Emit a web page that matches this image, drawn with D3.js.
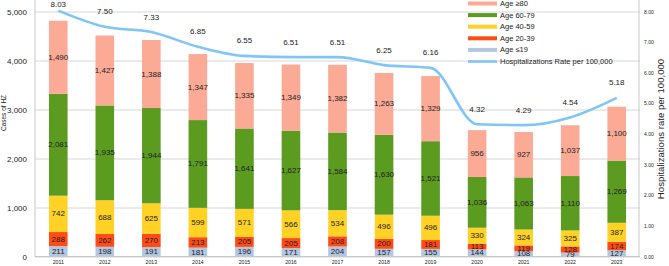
<!DOCTYPE html>
<html lang="en">
<head>
  <meta charset="UTF-8">
  <script src="https://d3js.org/d3.v7.min.js"></script>
  <style>
    body { margin: 0; background: #fff; }
    svg text { font-family: "Liberation Sans", Arial, sans-serif; fill: #222; }
    .gridlines .domain { display: none; }
    .gridlines line { stroke: #d6d6d6; }
    .axis .domain { display: none; }
  </style>
</head>
<body>
  <svg id="chart" width="669" height="266"></svg>
  <script>
    // data
    const years = ["2011", "2012", "2013", "2014", "2015", "2016", "2017", "2018", "2019", "2020", "2021", "2022", "2023"];
    const age19 = [211, 198, 191, 181, 196, 171, 204, 157, 155, 144, 108, 79, 127];
    const age2039 = [288, 262, 270, 213, 205, 205, 208, 200, 181, 113, 119, 128, 174];
    const age4059 = [742, 688, 625, 599, 571, 566, 534, 496, 496, 330, 324, 325, 387];
    const age6079 = [2081, 1935, 1944, 1791, 1641, 1627, 1584, 1630, 1521, 1036, 1063, 1110, 1269];
    const age80 = [1490, 1427, 1388, 1347, 1335, 1349, 1382, 1263, 1329, 956, 927, 1037, 1100];
    const rate = [8.03, 7.50, 7.33, 6.85, 6.55, 6.51, 6.51, 6.25, 6.16, 4.32, 4.29, 4.54, 5.18];
    const leftTicks = [0, 1000, 2000, 3000, 4000, 5000];
    const rightTicks = [0, 1, 2, 3, 4, 5, 6, 7, 8];

    const keys = ["a19", "a2039", "a4059", "a6079", "a80"];
    const names = { a80: "Age \u226580", a6079: "Age 60-79", a4059: "Age 40-59", a2039: "Age 20-39", a19: "Age \u226419" };
    const colors = { a19: "#b4c7e1", a2039: "#ff4b16", a4059: "#ffd225", a6079: "#5b9b1f", a80: "#fbaa95" };
    const lineColor = "#7fc5f7";

    const table = years.map((yr, i) => ({
      year: yr, a19: age19[i], a2039: age2039[i], a4059: age4059[i], a6079: age6079[i], a80: age80[i], rate: rate[i]
    }));

    const svg = d3.select("#chart");
    const plotLeft = 35, plotRight = 640, plotTop = 11.5, plotBottom = 256.5;

    const x = d3.scaleBand().domain(years).range([plotLeft, plotRight]).paddingInner(0.6).paddingOuter(0.3);
    const y = d3.scaleLinear().domain([0, 5000]).range([plotBottom, plotTop]);
    const yR = d3.scaleLinear().domain([0, 8]).range([plotBottom, plotTop]);

    // gridlines
    svg.append("g")
      .attr("class", "gridlines")
      .attr("transform", `translate(${plotLeft},0)`)
      .call(d3.axisLeft(y).tickValues(leftTicks).tickSize(-(plotRight - plotLeft)).tickFormat(""));

    // axis lines
    svg.append("line").attr("x1", plotLeft).attr("x2", plotLeft).attr("y1", 0).attr("y2", plotBottom)
      .attr("stroke", "#c8c8c8");
    svg.append("line").attr("x1", plotRight - 1).attr("x2", plotRight - 1).attr("y1", 0).attr("y2", plotBottom)
      .attr("stroke", "#c8c8c8");
    svg.append("line").attr("x1", plotLeft).attr("x2", plotRight).attr("y1", plotBottom).attr("y2", plotBottom)
      .attr("stroke", "#c8c8c8");

    // left axis
    const leftAxis = svg.append("g")
      .attr("class", "axis")
      .attr("transform", `translate(${plotLeft},0)`)
      .call(d3.axisLeft(y).tickValues(leftTicks).tickSize(0).tickPadding(8).tickFormat(d3.format(",")));
    leftAxis.selectAll("text").style("font-size", "8px");

    // right axis
    const rightAxis = svg.append("g")
      .attr("class", "axis")
      .attr("transform", `translate(${plotRight},0)`)
      .call(d3.axisRight(yR).tickValues(rightTicks).tickSize(0).tickPadding(4).tickFormat(d3.format(".2f")));
    rightAxis.selectAll("text").style("font-size", "5px");

    // bottom axis
    const bottomAxis = svg.append("g")
      .attr("class", "axis")
      .attr("transform", `translate(0,${plotBottom})`)
      .call(d3.axisBottom(x).tickSize(0).tickPadding(4));
    bottomAxis.selectAll("text").style("font-size", "5.2px");

    // axis titles
    svg.append("text")
      .attr("transform", "translate(6,113) rotate(-90)")
      .attr("text-anchor", "middle")
      .style("font-size", "6.5px")
      .text("Cases of HZ");
    svg.append("text")
      .attr("transform", "translate(664,129) rotate(-90)")
      .attr("text-anchor", "middle")
      .style("font-size", "9.6px")
      .text("Hospitalizations rate per 100,000");

    // stacked bars
    const series = d3.stack().keys(keys)(table);
    const layers = svg.selectAll("g.layer").data(series)
      .join("g")
      .attr("class", "layer")
      .attr("fill", d => colors[d.key]);

    layers.selectAll("rect")
      .data(d => d)
      .join("rect")
      .attr("x", d => x(d.data.year))
      .attr("width", x.bandwidth())
      .attr("y", d => y(d[1]))
      .attr("height", d => y(d[0]) - y(d[1]));

    layers.selectAll("text")
      .data(d => d)
      .join("text")
      .attr("x", d => x(d.data.year) + x.bandwidth() / 2)
      .attr("y", d => (y(d[0]) + y(d[1])) / 2)
      .attr("text-anchor", "middle")
      .attr("dominant-baseline", "central")
      .style("font-size", "8px")
      .text(d => d3.format(",")(d[1] - d[0]));

    // rate line
    const lineGen = d3.line()
      .x(d => x(d.year) + x.bandwidth() / 2)
      .y(d => yR(d.rate))
      .curve(d3.curveMonotoneX);

    svg.append("path")
      .datum(table)
      .attr("fill", "none")
      .attr("stroke", lineColor)
      .attr("stroke-width", 2.6)
      .attr("d", lineGen);

    svg.selectAll("text.rate")
      .data(table)
      .join("text")
      .attr("class", "rate")
      .attr("x", d => x(d.year) + x.bandwidth() / 2)
      .attr("y", d => Math.max(yR(d.rate) - 15, 4.5))
      .attr("text-anchor", "middle")
      .attr("dominant-baseline", "central")
      .style("font-size", "8px")
      .text(d => d.rate.toFixed(2));

    // legend
    const legendKeys = ["a80", "a6079", "a4059", "a2039", "a19"];
    const legend = svg.append("g").attr("transform", "translate(468,3.5)");
    legendKeys.forEach((k, i) => {
      const row = legend.append("g").attr("transform", `translate(0,${i * 11.6})`);
      row.append("rect").attr("x", 0).attr("y", -2).attr("width", 29).attr("height", 4).attr("fill", colors[k]);
      row.append("text").attr("x", 32).attr("y", 0).attr("dominant-baseline", "central")
        .style("font-size", "7.5px").text(names[k]);
    });
    const lrow = legend.append("g").attr("transform", `translate(0,${5 * 11.6})`);
    lrow.append("line").attr("x1", 0).attr("x2", 29).attr("y1", 0).attr("y2", 0)
      .attr("stroke", lineColor).attr("stroke-width", 2.6);
    lrow.append("text").attr("x", 32).attr("y", 0).attr("dominant-baseline", "central")
      .style("font-size", "7.5px").text("Hospitalizations Rate per 100,000");
  </script>
</body>
</html>
